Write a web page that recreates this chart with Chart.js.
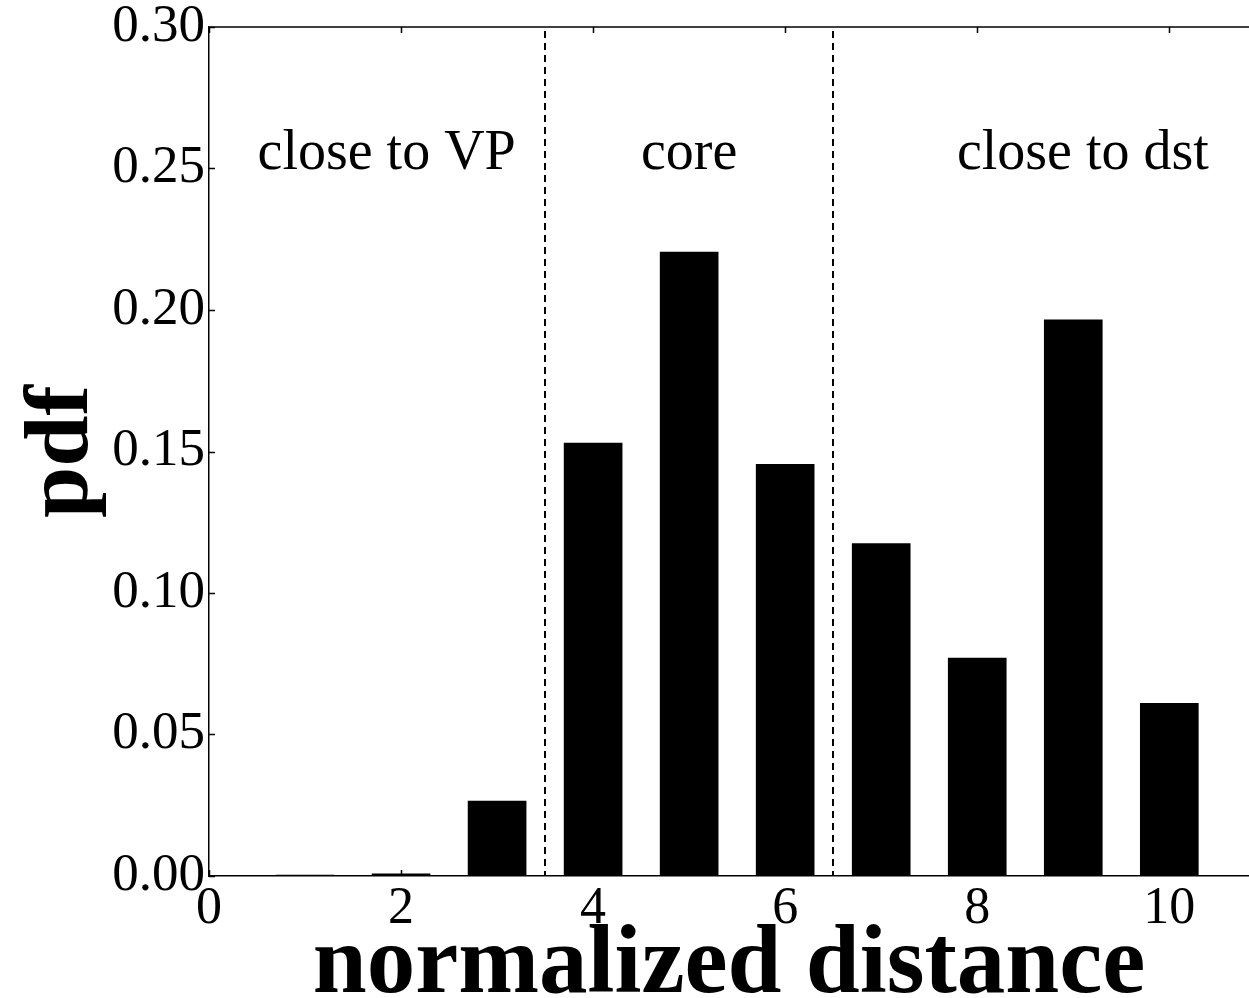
<!DOCTYPE html>
<html>
<head>
<meta charset="utf-8">
<script src="https://cdn.jsdelivr.net/npm/chart.js@4.4.1/dist/chart.umd.min.js"></script>
<style>
  html, body { margin: 0; padding: 0; background: #fff; }
  #wrap { width: 1249px; height: 998px; }
</style>
</head>
<body>
<div id="wrap"><canvas id="chart"></canvas></div>
<script>
// ---- data ----
const bins = [1, 2, 3, 4, 5, 6, 7, 8, 9, 10];
const pdf = [0.0003, 0.0008, 0.0265, 0.153, 0.2205, 0.1455, 0.1175, 0.077, 0.1965, 0.061];
const xTicks = [0, 2, 4, 6, 8, 10];
const yTicks = [0, 0.05, 0.10, 0.15, 0.20, 0.25, 0.30];
const regionBounds = [3.5, 6.5];
const regionNames = ["close to VP", "core", "close to dst"];
const regionCenters = [1.85, 5.0, 9.1];

const serif = "'Liberation Serif', 'DejaVu Serif', serif";

// inward ticks, top spine, dashed dividers and region labels
const decor = {
  id: 'decor',
  afterDatasetsDraw(chart) {
    const { ctx, chartArea: a, scales: { x, y } } = chart;
    ctx.save();
    ctx.strokeStyle = '#000';
    ctx.lineWidth = 1.5;
    // top spine
    ctx.beginPath();
    ctx.moveTo(a.left, a.top);
    ctx.lineTo(a.right, a.top);
    ctx.stroke();
    // x ticks (top and bottom, inward)
    xTicks.forEach(v => {
      const px = Math.round(x.getPixelForValue(v)) + 0.5;
      ctx.beginPath();
      ctx.moveTo(px, a.top); ctx.lineTo(px, a.top + 6);
      ctx.moveTo(px, a.bottom); ctx.lineTo(px, a.bottom - 6);
      ctx.stroke();
    });
    // y ticks (left, inward)
    yTicks.forEach(v => {
      const py = Math.round(y.getPixelForValue(v)) + 0.5;
      ctx.beginPath();
      ctx.moveTo(a.left, py); ctx.lineTo(a.left + 6, py);
      ctx.stroke();
    });
    // dashed region dividers
    ctx.lineWidth = 2;
    ctx.setLineDash([7, 5]);
    regionBounds.forEach(v => {
      const px = Math.round(x.getPixelForValue(v));
      ctx.beginPath();
      ctx.moveTo(px, a.top + 4);
      ctx.lineTo(px, a.bottom);
      ctx.stroke();
    });
    ctx.setLineDash([]);
    // region labels
    ctx.fillStyle = '#000';
    ctx.font = '56px ' + serif;
    ctx.textAlign = 'center';
    ctx.textBaseline = 'middle';
    regionNames.forEach((t, i) => {
      ctx.fillText(t, x.getPixelForValue(regionCenters[i]), y.getPixelForValue(0.255));
    });
    ctx.restore();
  }
};

new Chart(document.getElementById('chart'), {
  type: 'bar',
  data: {
    datasets: [{
      data: bins.map((b, i) => ({ x: b, y: pdf[i] })),
      backgroundColor: '#000',
      borderWidth: 0,
      barThickness: 58
    }]
  },
  options: {
    responsive: true,
    maintainAspectRatio: false,
    animation: false,
    layout: { autoPadding: false, padding: { top: 27, right: 0, left: 0, bottom: 0 } },
    plugins: { legend: { display: false }, tooltip: { enabled: false } },
    scales: {
      x: {
        type: 'linear',
        offset: false,
        min: 0,
        max: 10.83,
        grid: { display: false, drawTicks: false, offset: false },
        border: { display: true, color: '#000', width: 1.5 },
        afterBuildTicks: s => { s.ticks = xTicks.map(v => ({ value: v })); },
        afterFit: s => { s.height = 122; },
        ticks: {
          color: '#000',
          padding: 2,
          maxRotation: 0,
          autoSkip: false,
          font: { family: serif, size: 52 },
          callback: v => String(v)
        },
        title: {
          display: true,
          text: 'normalized distance',
          color: '#000',
          padding: 0,
          font: { family: serif, size: 97, weight: 'bold', lineHeight: 0.65 }
        }
      },
      y: {
        min: 0,
        max: 0.30,
        grid: { display: false, drawTicks: false },
        border: { display: true, color: '#000', width: 1.5 },
        afterBuildTicks: s => { s.ticks = yTicks.map(v => ({ value: v })); },
        afterFit: s => { s.width = 209; },
        ticks: {
          color: '#000',
          padding: 4,
          autoSkip: false,
          font: { family: serif, size: 53, lineHeight: 0.8 },
          callback: v => v.toFixed(2)
        },
        title: {
          display: true,
          text: 'pdf',
          color: '#000',
          padding: { top: 8, bottom: 0 },
          font: { family: serif, size: 92, weight: 'bold' }
        }
      }
    }
  },
  plugins: [decor]
});
</script>
</body>
</html>
